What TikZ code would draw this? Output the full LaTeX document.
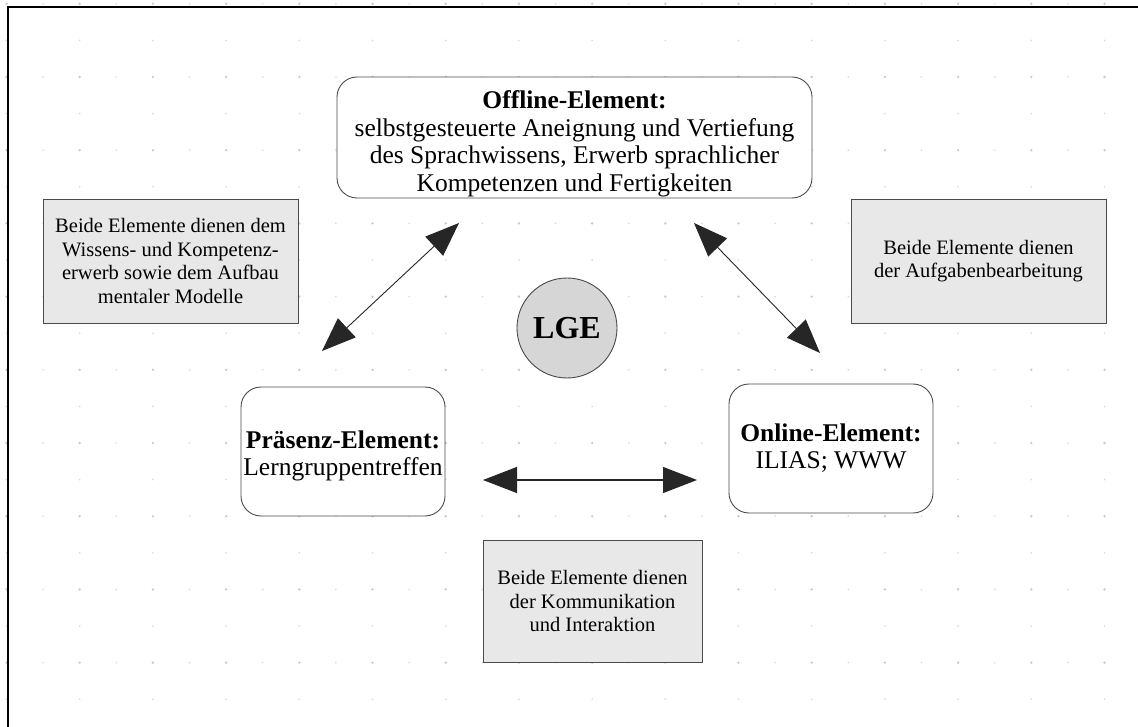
\documentclass[tikz,border=0pt]{standalone}
\usepackage{fontspec}
\setmainfont{Liberation Serif}
\usetikzlibrary{arrows.meta}
\definecolor{boxgray}{HTML}{E8E8E8}
\definecolor{circgray}{HTML}{D6D6D6}
\definecolor{edgegray}{HTML}{4A4A4A}
\definecolor{dotgray}{HTML}{C8C8C8}
\tikzset{
  elem/.style={draw=edgegray, line width=0.9pt, rounded corners=20pt, fill=white, align=center, inner sep=0pt},
  infobox/.style={draw=edgegray, line width=0.9pt, fill=boxgray, align=center, inner sep=0pt, font=\fontsize{20.5}{23.5}\selectfont},
  dblarrow/.style={{Triangle[length=34pt,width=26pt]}-{Triangle[length=34pt,width=26pt]}, line width=0.9pt, draw=black!85},
}
\begin{document}
\begin{tikzpicture}[x=1pt,y=-1pt]
\useasboundingbox (0,0) rectangle (1138,727);
\fill[white] (0,0) rectangle (1138,727);
% dotted grid
\foreach \i in {0,...,31}{
  \foreach \j in {0,...,19}{
    \pgfmathsetmacro{\xx}{6.5+36.6*\i}
    \pgfmathsetmacro{\yy}{3.8+36.6*\j}
    \pgfmathtruncatemacro{\mi}{mod(\i,2)}
    \pgfmathtruncatemacro{\mj}{mod(\j,2)}
    \ifnum\mi=0
      \ifnum\mj=0
        \fill[dotgray] (\xx,\yy) circle (1.3pt);
      \else
        \fill[dotgray!70] (\xx,\yy) circle (0.9pt);
      \fi
    \else
      \ifnum\mj=0
        \fill[dotgray!70] (\xx,\yy) circle (0.9pt);
      \fi
    \fi
  }
}
% frame
\draw[line width=1.5pt] (1150,7) -- (8,7) -- (8,740);

% nodes
\node[elem, minimum width=475pt, minimum height=121pt, font=\fontsize{25.5}{27.5}\selectfont] (offline) at (574.5,137.5)
  {\rule{0pt}{31pt}\textbf{Offline-Element:}\\selbstgesteuerte Aneignung und Vertiefung\\des Sprachwissens, Erwerb sprachlicher\\Kompetenzen und Fertigkeiten};
\node[elem, minimum width=204pt, minimum height=129pt, font=\fontsize{25.5}{27}\selectfont] (praesenz) at (343,451.5)
  {\rule{0pt}{27pt}\textbf{Präsenz-Element:}\\Lerngruppentreffen};
\node[elem, minimum width=204pt, minimum height=129pt, font=\fontsize{25.5}{27}\selectfont] (online) at (831,448.5)
  {\textbf{Online-Element:}\\ILIAS; WWW};
\node[circle, draw=edgegray, line width=0.9pt, fill=circgray, minimum size=100pt, inner sep=0pt, font=\fontsize{32}{34}\selectfont\bfseries] (lge) at (567,328) {LGE};

\node[infobox, minimum width=255pt, minimum height=124pt] (wissen) at (170.5,261)
  {Beide Elemente dienen dem\\Wissens- und Kompetenz-\\erwerb sowie dem Aufbau\\mentaler Modelle};
\node[infobox, minimum width=255pt, minimum height=124pt] (aufgaben) at (978.5,261)
  {Beide Elemente dienen\\der Aufgabenbearbeitung};
\node[infobox, minimum width=219pt, minimum height=122pt] (kommu) at (592.5,601)
  {Beide Elemente dienen\\der Kommunikation\\und Interaktion};

% arrow end points
\coordinate (a1) at (322,351);
\coordinate (a2) at (459,223);
\coordinate (b1) at (694,223);
\coordinate (b2) at (820,353);
\coordinate (c1) at (483,480);
\coordinate (c2) at (697,480);
\draw[dblarrow] (a1) -- (a2);
\draw[dblarrow] (b1) -- (b2);
\draw[dblarrow, line width=1.2pt] (c1) -- (c2);
\end{tikzpicture}
\end{document}
